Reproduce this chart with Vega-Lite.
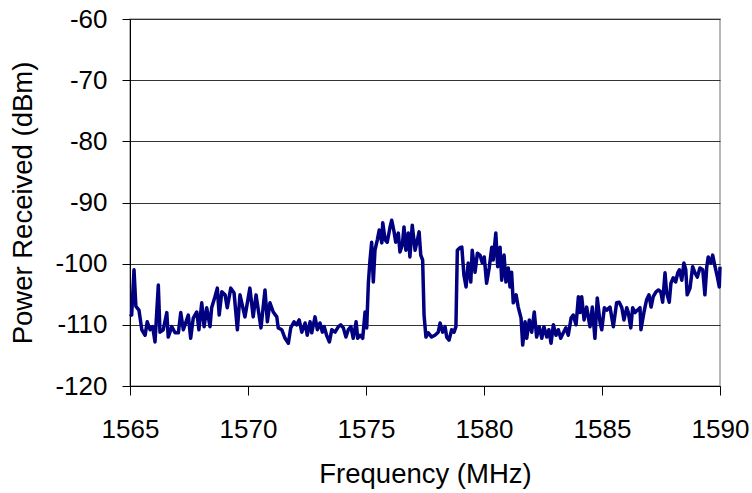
{
  "$schema": "https://vega.github.io/schema/vega-lite/v6.json",
  "width": 590,
  "height": 367,
  "autosize": {"type": "none"},
  "padding": {"left": 130, "top": 19, "right": 32, "bottom": 107},
  "background": "white",
  "config": {
    "font": "Liberation Sans",
    "view": {"stroke": "#a0a0a0", "strokeWidth": 1.5},
    "axis": {
      "labelFont": "Liberation Sans",
      "titleFont": "Liberation Sans",
      "labelFontSize": 26,
      "titleFontSize": 27.5,
      "titleFontWeight": "normal",
      "labelColor": "#000000",
      "titleColor": "#000000",
      "domainColor": "#000000",
      "tickColor": "#000000",
      "domainWidth": 1,
      "tickWidth": 1
    }
  },
  "data": {
    "values": [
      {"f": 1565.00, "p": -108.2},
      {"f": 1565.07, "p": -108.4},
      {"f": 1565.17, "p": -101.0},
      {"f": 1565.25, "p": -107.0},
      {"f": 1565.38, "p": -107.6},
      {"f": 1565.50, "p": -110.8},
      {"f": 1565.64, "p": -111.7},
      {"f": 1565.73, "p": -109.5},
      {"f": 1565.85, "p": -110.8},
      {"f": 1565.96, "p": -110.3},
      {"f": 1566.06, "p": -112.8},
      {"f": 1566.20, "p": -103.5},
      {"f": 1566.27, "p": -111.2},
      {"f": 1566.41, "p": -110.8},
      {"f": 1566.56, "p": -108.0},
      {"f": 1566.62, "p": -112.0},
      {"f": 1566.77, "p": -110.3},
      {"f": 1566.91, "p": -111.3},
      {"f": 1567.05, "p": -111.3},
      {"f": 1567.15, "p": -108.0},
      {"f": 1567.26, "p": -110.8},
      {"f": 1567.47, "p": -108.4},
      {"f": 1567.57, "p": -112.2},
      {"f": 1567.68, "p": -108.9},
      {"f": 1567.83, "p": -107.9},
      {"f": 1567.92, "p": -110.8},
      {"f": 1568.04, "p": -106.4},
      {"f": 1568.14, "p": -110.3},
      {"f": 1568.25, "p": -107.2},
      {"f": 1568.39, "p": -110.3},
      {"f": 1568.46, "p": -107.2},
      {"f": 1568.60, "p": -105.4},
      {"f": 1568.70, "p": -104.0},
      {"f": 1568.78, "p": -108.4},
      {"f": 1568.89, "p": -104.6},
      {"f": 1569.03, "p": -105.1},
      {"f": 1569.12, "p": -107.2},
      {"f": 1569.27, "p": -104.0},
      {"f": 1569.41, "p": -104.8},
      {"f": 1569.55, "p": -110.8},
      {"f": 1569.66, "p": -105.1},
      {"f": 1569.87, "p": -108.7},
      {"f": 1570.08, "p": -104.0},
      {"f": 1570.22, "p": -108.7},
      {"f": 1570.34, "p": -105.1},
      {"f": 1570.55, "p": -110.5},
      {"f": 1570.72, "p": -104.3},
      {"f": 1570.82, "p": -109.5},
      {"f": 1570.93, "p": -106.4},
      {"f": 1571.07, "p": -107.9},
      {"f": 1571.22, "p": -108.7},
      {"f": 1571.28, "p": -110.5},
      {"f": 1571.43, "p": -110.8},
      {"f": 1571.57, "p": -112.2},
      {"f": 1571.71, "p": -113.0},
      {"f": 1571.81, "p": -110.5},
      {"f": 1571.95, "p": -109.5},
      {"f": 1572.06, "p": -110.0},
      {"f": 1572.17, "p": -109.2},
      {"f": 1572.28, "p": -111.2},
      {"f": 1572.42, "p": -109.7},
      {"f": 1572.51, "p": -111.7},
      {"f": 1572.63, "p": -109.5},
      {"f": 1572.70, "p": -111.3},
      {"f": 1572.84, "p": -108.7},
      {"f": 1572.94, "p": -110.8},
      {"f": 1573.05, "p": -109.7},
      {"f": 1573.15, "p": -111.2},
      {"f": 1573.23, "p": -110.3},
      {"f": 1573.33, "p": -111.7},
      {"f": 1573.45, "p": -112.8},
      {"f": 1573.55, "p": -110.8},
      {"f": 1573.69, "p": -111.2},
      {"f": 1573.83, "p": -110.3},
      {"f": 1573.93, "p": -110.0},
      {"f": 1574.04, "p": -110.5},
      {"f": 1574.15, "p": -112.0},
      {"f": 1574.25, "p": -110.8},
      {"f": 1574.36, "p": -110.3},
      {"f": 1574.46, "p": -112.2},
      {"f": 1574.58, "p": -109.5},
      {"f": 1574.65, "p": -112.2},
      {"f": 1574.75, "p": -111.7},
      {"f": 1574.86, "p": -112.2},
      {"f": 1574.96, "p": -107.9},
      {"f": 1575.03, "p": -110.5},
      {"f": 1575.10, "p": -103.2},
      {"f": 1575.17, "p": -99.4},
      {"f": 1575.24, "p": -96.5},
      {"f": 1575.31, "p": -103.0},
      {"f": 1575.38, "p": -97.8},
      {"f": 1575.48, "p": -96.1},
      {"f": 1575.56, "p": -94.5},
      {"f": 1575.67, "p": -96.6},
      {"f": 1575.71, "p": -93.3},
      {"f": 1575.81, "p": -96.1},
      {"f": 1575.90, "p": -96.5},
      {"f": 1576.02, "p": -94.0},
      {"f": 1576.09, "p": -92.9},
      {"f": 1576.19, "p": -94.8},
      {"f": 1576.26, "p": -96.5},
      {"f": 1576.37, "p": -95.0},
      {"f": 1576.44, "p": -98.1},
      {"f": 1576.54, "p": -96.9},
      {"f": 1576.61, "p": -94.0},
      {"f": 1576.69, "p": -97.8},
      {"f": 1576.79, "p": -95.0},
      {"f": 1576.86, "p": -98.9},
      {"f": 1576.96, "p": -93.7},
      {"f": 1577.08, "p": -97.8},
      {"f": 1577.15, "p": -96.6},
      {"f": 1577.25, "p": -94.8},
      {"f": 1577.32, "p": -98.6},
      {"f": 1577.40, "p": -99.4},
      {"f": 1577.46, "p": -108.4},
      {"f": 1577.54, "p": -112.0},
      {"f": 1577.64, "p": -111.3},
      {"f": 1577.78, "p": -112.0},
      {"f": 1577.92, "p": -111.7},
      {"f": 1578.06, "p": -111.2},
      {"f": 1578.14, "p": -109.7},
      {"f": 1578.25, "p": -111.2},
      {"f": 1578.35, "p": -110.3},
      {"f": 1578.42, "p": -112.0},
      {"f": 1578.52, "p": -112.5},
      {"f": 1578.63, "p": -110.8},
      {"f": 1578.73, "p": -111.2},
      {"f": 1578.81, "p": -110.3},
      {"f": 1578.87, "p": -97.8},
      {"f": 1578.98, "p": -97.4},
      {"f": 1579.06, "p": -97.3},
      {"f": 1579.15, "p": -101.9},
      {"f": 1579.24, "p": -103.8},
      {"f": 1579.33, "p": -99.9},
      {"f": 1579.44, "p": -103.0},
      {"f": 1579.50, "p": -97.8},
      {"f": 1579.62, "p": -101.4},
      {"f": 1579.72, "p": -98.3},
      {"f": 1579.83, "p": -98.6},
      {"f": 1579.93, "p": -99.9},
      {"f": 1580.01, "p": -98.9},
      {"f": 1580.11, "p": -103.2},
      {"f": 1580.22, "p": -100.7},
      {"f": 1580.33, "p": -97.3},
      {"f": 1580.39, "p": -99.4},
      {"f": 1580.50, "p": -95.0},
      {"f": 1580.58, "p": -100.5},
      {"f": 1580.68, "p": -97.3},
      {"f": 1580.75, "p": -102.7},
      {"f": 1580.85, "p": -98.6},
      {"f": 1580.93, "p": -103.0},
      {"f": 1581.03, "p": -100.7},
      {"f": 1581.10, "p": -103.8},
      {"f": 1581.17, "p": -101.4},
      {"f": 1581.24, "p": -106.4},
      {"f": 1581.36, "p": -105.1},
      {"f": 1581.45, "p": -107.1},
      {"f": 1581.57, "p": -108.9},
      {"f": 1581.64, "p": -113.3},
      {"f": 1581.74, "p": -109.5},
      {"f": 1581.81, "p": -112.2},
      {"f": 1581.92, "p": -109.2},
      {"f": 1582.02, "p": -111.2},
      {"f": 1582.13, "p": -107.9},
      {"f": 1582.23, "p": -112.0},
      {"f": 1582.34, "p": -110.3},
      {"f": 1582.45, "p": -112.2},
      {"f": 1582.54, "p": -110.3},
      {"f": 1582.66, "p": -112.0},
      {"f": 1582.75, "p": -110.8},
      {"f": 1582.84, "p": -113.0},
      {"f": 1582.94, "p": -110.0},
      {"f": 1583.05, "p": -111.7},
      {"f": 1583.15, "p": -110.8},
      {"f": 1583.25, "p": -112.2},
      {"f": 1583.36, "p": -111.3},
      {"f": 1583.47, "p": -110.5},
      {"f": 1583.57, "p": -111.7},
      {"f": 1583.69, "p": -108.9},
      {"f": 1583.78, "p": -108.4},
      {"f": 1583.90, "p": -110.0},
      {"f": 1584.00, "p": -105.4},
      {"f": 1584.07, "p": -108.0},
      {"f": 1584.14, "p": -105.4},
      {"f": 1584.24, "p": -109.2},
      {"f": 1584.35, "p": -107.1},
      {"f": 1584.49, "p": -110.3},
      {"f": 1584.59, "p": -107.1},
      {"f": 1584.70, "p": -112.2},
      {"f": 1584.80, "p": -105.6},
      {"f": 1584.92, "p": -109.7},
      {"f": 1584.99, "p": -110.8},
      {"f": 1585.10, "p": -107.2},
      {"f": 1585.20, "p": -107.6},
      {"f": 1585.34, "p": -107.1},
      {"f": 1585.48, "p": -110.3},
      {"f": 1585.62, "p": -106.4},
      {"f": 1585.73, "p": -106.3},
      {"f": 1585.84, "p": -107.2},
      {"f": 1585.93, "p": -109.2},
      {"f": 1586.05, "p": -107.2},
      {"f": 1586.11, "p": -107.9},
      {"f": 1586.22, "p": -110.5},
      {"f": 1586.30, "p": -107.2},
      {"f": 1586.40, "p": -108.0},
      {"f": 1586.50, "p": -107.6},
      {"f": 1586.61, "p": -107.2},
      {"f": 1586.65, "p": -110.8},
      {"f": 1586.78, "p": -107.9},
      {"f": 1586.89, "p": -105.9},
      {"f": 1586.99, "p": -105.1},
      {"f": 1587.08, "p": -107.1},
      {"f": 1587.17, "p": -105.4},
      {"f": 1587.29, "p": -104.6},
      {"f": 1587.39, "p": -104.3},
      {"f": 1587.49, "p": -104.6},
      {"f": 1587.57, "p": -106.3},
      {"f": 1587.67, "p": -101.5},
      {"f": 1587.74, "p": -104.8},
      {"f": 1587.85, "p": -106.3},
      {"f": 1587.92, "p": -103.2},
      {"f": 1588.02, "p": -102.3},
      {"f": 1588.12, "p": -103.0},
      {"f": 1588.21, "p": -101.5},
      {"f": 1588.28, "p": -101.0},
      {"f": 1588.38, "p": -102.7},
      {"f": 1588.47, "p": -99.9},
      {"f": 1588.55, "p": -101.0},
      {"f": 1588.61, "p": -105.1},
      {"f": 1588.73, "p": -104.0},
      {"f": 1588.84, "p": -100.5},
      {"f": 1588.94, "p": -101.5},
      {"f": 1589.04, "p": -102.2},
      {"f": 1589.15, "p": -100.7},
      {"f": 1589.27, "p": -101.0},
      {"f": 1589.36, "p": -105.1},
      {"f": 1589.44, "p": -100.5},
      {"f": 1589.50, "p": -98.9},
      {"f": 1589.61, "p": -99.9},
      {"f": 1589.69, "p": -98.6},
      {"f": 1589.79, "p": -100.5},
      {"f": 1589.89, "p": -102.2},
      {"f": 1589.97, "p": -103.8},
      {"f": 1590.00, "p": -100.5}
    ]
  },
  "mark": {"type": "line", "color": "#000080", "strokeWidth": 3.5, "strokeJoin": "round"},
  "encoding": {
    "x": {
      "field": "f",
      "type": "quantitative",
      "title": "Frequency (MHz)",
      "scale": {"domain": [1565, 1590], "nice": false, "zero": false},
      "axis": {
        "values": [1565, 1570, 1575, 1580, 1585, 1590],
        "labelExpr": "'' + datum.value",
        "grid": false,
        "tickSize": 9,
        "labelPadding": 21,
        "titlePadding": 18,
        "labelFlush": false
      }
    },
    "y": {
      "field": "p",
      "type": "quantitative",
      "title": "Power Received (dBm)",
      "scale": {"domain": [-120, -60], "nice": false, "zero": false},
      "axis": {
        "values": [-120, -110, -100, -90, -80, -70, -60],
        "labelExpr": "'' + datum.value",
        "grid": true,
        "gridColor": "#333333",
        "gridWidth": 1,
        "gridOpacity": 1,
        "tickSize": 8,
        "labelPadding": 15,
        "titlePadding": 17,
        "labelFlush": false
      }
    }
  }
}
